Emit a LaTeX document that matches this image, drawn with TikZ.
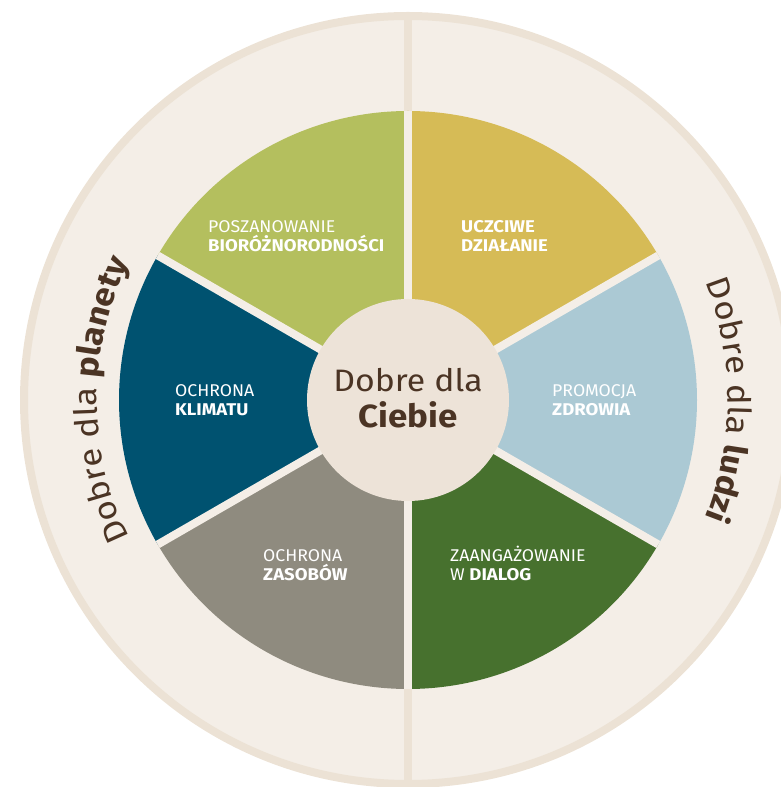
\documentclass[tikz,border=0pt]{standalone}
\usepackage{fontspec}
\setmainfont{Fira Sans}
\newfontfamily\lblreg{Fira Sans}[FakeStretch=1.04]
\newfontfamily\lblbold{Fira Sans}[FakeStretch=1.09]
\newfontfamily\arcfont{Fira Sans}[FakeStretch=1.09]
\usetikzlibrary{decorations.text}
\definecolor{bgc}{HTML}{F4EEE7}
\definecolor{ringc}{HTML}{ECE2D5}
\definecolor{midc}{HTML}{EDE3D8}
\definecolor{cgreen}{HTML}{B4BF5E}
\definecolor{cyellow}{HTML}{D6BB56}
\definecolor{cblue}{HTML}{ABC9D4}
\definecolor{cdgreen}{HTML}{47712E}
\definecolor{cgray}{HTML}{8F8B7F}
\definecolor{cdblue}{HTML}{005270}
\definecolor{tbrown}{HTML}{4B3424}
\begin{document}
\begin{tikzpicture}[x=1pt,y=1pt,
  lbl/.style={anchor=base west, inner sep=0pt, text=white, font=\lblreg\fontsize{17}{19}\selectfont},
  lblb/.style={anchor=base west, inner sep=0pt, text=white, font=\lblbold\fontsize{17}{19}\selectfont\bfseries},
  midtxt/.style={anchor=base, inner sep=0pt, text=tbrown, font=\arcfont\fontsize{31}{36}\selectfont},
  gapline/.style={bgc, line width=8pt}]
\useasboundingbox (0,0) rectangle (781,787);
\coordinate (C) at (408,387);
% outer disc
\fill[bgc] (C) circle[radius=384pt];
\draw[ringc, line width=8pt] (C) circle[radius=384pt];
\draw[ringc, line width=8pt] ([yshift=384pt]C) -- ([yshift=-384pt]C);
% sectors
\fill[cgreen]  (C) -- ++(90:289pt)  arc[start angle=90,  end angle=150, radius=289pt] -- cycle;
\fill[cdblue]  (C) -- ++(150:289pt) arc[start angle=150, end angle=210, radius=289pt] -- cycle;
\fill[cgray]   (C) -- ++(210:289pt) arc[start angle=210, end angle=270, radius=289pt] -- cycle;
\fill[cdgreen] (C) -- ++(270:289pt) arc[start angle=270, end angle=330, radius=289pt] -- cycle;
\fill[cblue]   (C) -- ++(-30:289pt) arc[start angle=-30, end angle=30,  radius=289pt] -- cycle;
\fill[cyellow] (C) -- ++(30:289pt)  arc[start angle=30,  end angle=90,  radius=289pt] -- cycle;
% gaps
\foreach \a in {30,90,150,210,270,330}
  \draw[gapline] (C) -- ++(\a:289pt);
% centre
\fill[midc] (C) circle[radius=101pt];
\node[midtxt] (dobre) at (408,395) {Dobre dla};
\node[midtxt, font=\arcfont\fontsize{32}{36}\selectfont\bfseries] (ciebie) at (408,359) {Ciebie};
% labels
\node[lbl]  (poz) at (208,554) {POSZANOWANIE};
\node[lblb] (bio) at (208,535) {BIORÓŻNORODNOŚCI};
\node[lblb] (ucz) at (461,554) {UCZCIWE};
\node[lblb] (dzi) at (461,535) {DZIAŁANIE};
\node[lbl]  (och1) at (175,390) {OCHRONA};
\node[lblb] (kli) at (175,371) {KLIMATU};
\node[lbl]  (pro) at (552,390) {PROMOCJA};
\node[lblb] (zdr) at (552,371) {ZDROWIA};
\node[lbl]  (och2) at (263,225) {OCHRONA};
\node[lblb] (zas) at (263,206) {ZASOBÓW};
\node[lbl]  (zaa) at (450,225) {ZAANGAŻOWANIE};
\node[lbl]  (dia) at (450,206) {W {\lblbold\bfseries DIALOG}};
% curved texts
\begin{scope}
\arcfont\fontsize{32}{38}\selectfont
\path[decorate, decoration={text along path, text align=center,
  text={|\color{tbrown}|Dobre dla |\color{tbrown}\bfseries|planety}}]
  ([shift={(230:311pt)}]C) arc[start angle=230, end angle=130, radius=311pt];
\path[decorate, decoration={text along path, text align=center,
  text={|\color{tbrown}|Dobre dla |\color{tbrown}\bfseries|ludzi}}]
  ([shift={(50:320pt)}]C) arc[start angle=50, end angle=-50, radius=320pt];
\end{scope}
\end{tikzpicture}
\end{document}
